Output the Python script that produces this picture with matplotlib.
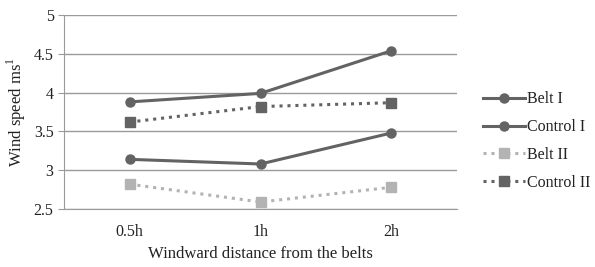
import matplotlib.pyplot as plt

plt.rcParams['font.family'] = ['Liberation Serif', 'DejaVu Serif']

categories = ["0.5h", "1h", "2h"]
belt_1 = [3.14, 3.08, 3.48]
control_1 = [3.88, 3.99, 4.54]
belt_2 = [2.82, 2.59, 2.78]
control_2 = [3.62, 3.82, 3.87]

fig = plt.figure(figsize=(5.95, 2.67), dpi=100)
ax = fig.add_axes([64 / 595, 1 - 209 / 267, (457 - 64) / 595, 194 / 267])

x = list(range(len(categories)))
dark = "#636363"
light = "#b3b3b3"

ax.plot(x, belt_1, color=dark, lw=2.2, marker="o", ms=6.5, label="Belt I")
ax.plot(x, control_1, color=dark, lw=2.2, marker="o", ms=6.5, label="Control I")
ax.plot(x, belt_2, color=light, lw=2.2, ls=(0, (1, 1.6)), marker="s", ms=6.5,
        label="Belt II")
ax.plot(x, control_2, color=dark, lw=2.2, ls=(0, (1, 1.6)), marker="s", ms=6.5,
        label="Control II")

ax.set_xlim(-0.5, 2.5)
ax.set_ylim(2.5, 5)
ax.set_yticks([2.5, 3, 3.5, 4, 4.5, 5])
ax.set_yticklabels(["2.5", "3", "3.5", "4", "4.5", "5"])
ax.set_xticks(x)
ax.set_xticklabels(categories)
ax.grid(axis="y", color="#9a9a9a", lw=1)
ax.set_axisbelow(True)
for s in ["top", "right"]:
    ax.spines[s].set_visible(False)
ax.spines["left"].set_color("#9a9a9a")
ax.spines["bottom"].set_color("#9a9a9a")
ax.tick_params(axis="x", length=0, labelsize=11.5, pad=11, colors="#222222")
ax.tick_params(axis="y", length=4, labelsize=11.5, colors="#222222",
               color="#9a9a9a")
ax.set_xlabel("Windward distance from the belts", fontsize=12, labelpad=4,
              color="#222222")
ax.set_ylabel("Wind speed ms$^{\\mathregular{1}}$", fontsize=12, labelpad=4,
              color="#222222")

ax.legend(loc="center left", bbox_to_anchor=(1.03, 0.35), frameon=False,
          fontsize=11.5, handlelength=2.6, handletextpad=0.15, labelspacing=0.75,
          labelcolor="#222222")

fig.savefig("out.png", dpi=100)
